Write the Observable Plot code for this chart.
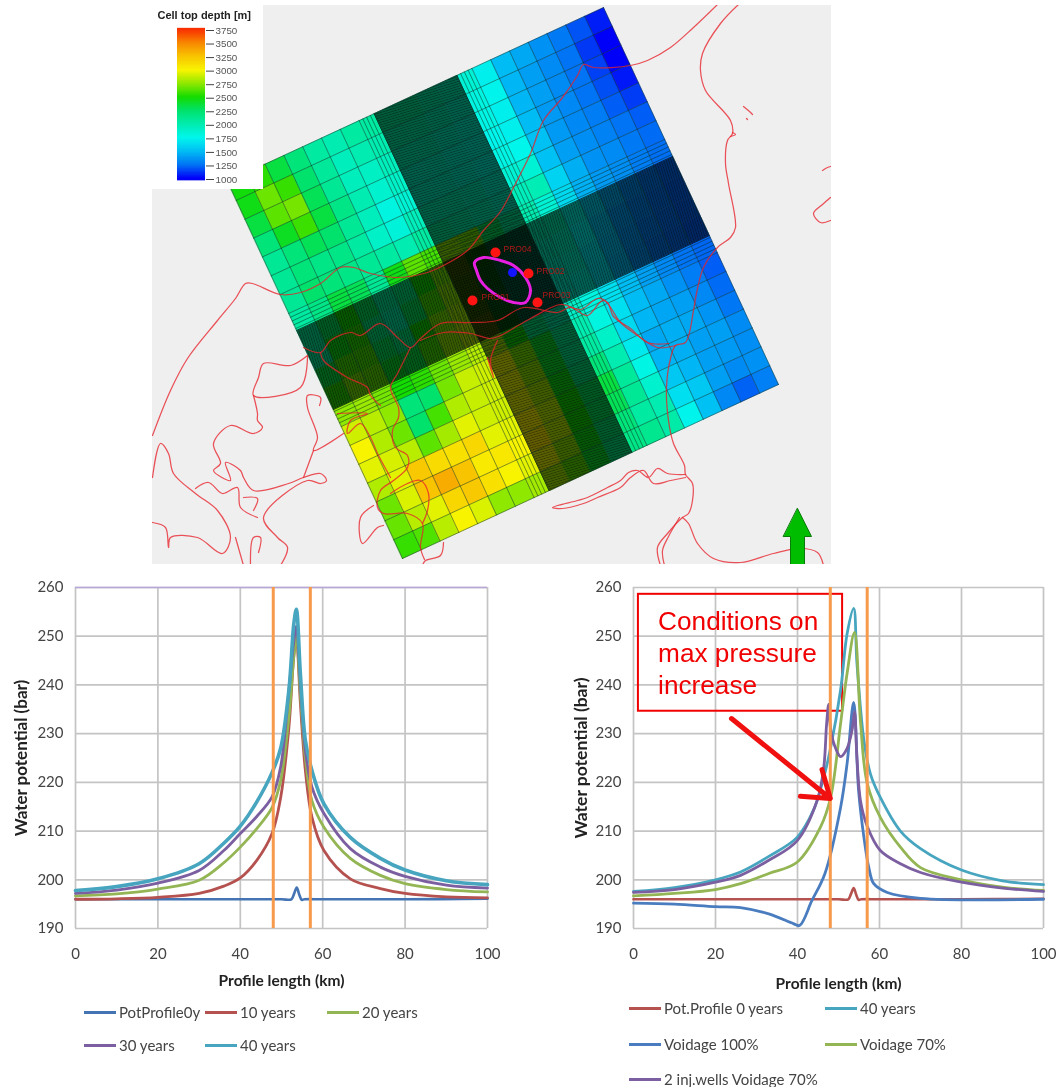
<!DOCTYPE html>
<html>
<head>
<meta charset="utf-8">
<script src="https://cdn.jsdelivr.net/npm/d3@7"></script>
<script src="https://cdn.jsdelivr.net/npm/@observablehq/plot@0.6"></script>
<style>
html,body{margin:0;padding:0;background:#fff;}
#page{position:relative;width:1064px;height:1087px;overflow:hidden;}
#page>div{position:absolute;}
#page svg{display:block;filter:blur(.45px);}
.lg{position:absolute;font:15px Lato,sans-serif;color:#444;white-space:nowrap;line-height:18px;filter:blur(.35px);}
.lg i{position:absolute;display:block;height:3px;width:32px;}
</style>
</head>
<body>
<div id="page"></div>
<script>
// ---------- Depth colour map ----------
const depthStops = [1000,1250,1500,1750,2000,2250,2500,2750,3000,3250,3500,3750];
const depthColors = ["#0000f8","#0074f4","#00bcf4","#00f6ec","#00ecb0","#00e26c","#14dc00","#8ee800","#f8f400","#f8c400","#f88800","#f83000"];
const depthTicks = [1000,1250,1500,1750,2000,2250,2500,2750,3000,3250,3500,3750];

// ---------- Model grid (km along the two grid axes) ----------
const uBlocks = [0,5,10,15,20,25,30,35,39,44.5,50,55.5,61,65,70,75,80,85,90,95,100];
const vBlocks = [0,5,10,15,20,25,30,35,39.5,44.5,50,55,60.5,65,70,75,80,85,90,95,100];
const gridLinesAt = [0,5,10,15,20,25,30,35,36,37,38,39,61,62,63,64,65,70,75,80,85,90,95,100];
const gridOrigin = [227,181], gridU = [3.76,-1.74], gridV = [1.75,3.77];

const depthRow00 = [2480,2550,2350,2200,2050,2000,2050,2050,2100,2100,2050,2000,1850,1720,1500,1430,1350,1270,1180,1060];
const depthRow05 = [2450,2680,2570,2250,2080,1950,2000,2000,2050,2050,2000,1950,1800,1740,1480,1400,1330,1250,1120,1000];
const depthRow10 = [2350,2650,2700,2300,2100,1950,1920,1950,2000,2000,1950,1900,1780,1720,1480,1400,1330,1250,1140,1000];
const depthRow15 = [2200,2420,2580,2350,2150,2000,1880,1900,1950,1950,1900,1880,1750,1720,1500,1380,1320,1250,1170,1050];
const depthRow20 = [2100,2200,2300,2250,2100,1950,1800,1850,1950,1950,1900,1860,1780,1760,1520,1380,1320,1280,1200,1130];
const depthRow25 = [2100,2200,2150,2150,2050,1900,1830,1950,2000,2000,1980,1900,1850,1850,1520,1400,1340,1300,1250,1200];
const depthRow30 = [2100,2250,2200,2150,2100,2050,2000,2050,2100,2050,2000,1950,1950,1980,1600,1450,1350,1330,1270,1230];
const depthRow35 = [2050,2150,2350,2300,2100,2450,2650,2600,2750,2700,2300,2100,2000,1850,1620,1460,1380,1340,1280,1240];
const depthRow39 = [2100,2300,2500,2300,2100,2200,2500,2700,2750,2500,2200,2100,2000,2000,1800,1600,1450,1350,1280,1230];
const depthRow44 = [2100,2450,2550,2200,2050,2300,2600,2750,2700,2400,2100,2000,1950,1950,1750,1550,1400,1320,1260,1220];
const depthRow50 = [2350,2600,2600,2300,2200,2500,2700,2800,2700,2350,2050,1950,1900,1900,1700,1520,1380,1300,1250,1220];
const depthRow55 = [2550,2700,2650,2400,2350,2600,2750,2850,2800,2400,2100,1950,1880,1850,1680,1500,1360,1280,1240,1210];
const depthRow60 = [2750,2780,2700,2500,2550,2680,2780,2850,2800,2500,2200,2050,1900,1800,1650,1500,1400,1320,1250,1220];
const depthRow65 = [2900,2850,2750,2200,2250,2700,2880,2900,2950,2700,2400,2150,2000,1800,1650,1500,1430,1350,1280,1200];
const depthRow70 = [3000,2830,2680,2250,2600,2830,2880,2900,2950,2750,2400,2150,2050,1900,1620,1480,1420,1400,1320,1230];
const depthRow75 = [2950,2920,2850,2650,2800,2950,2900,2900,2950,2800,2450,2200,2200,2000,1700,1430,1450,1430,1360,1260];
const depthRow80 = [2830,2950,3230,3130,3100,3150,2950,2950,3000,2850,2500,2300,2350,2080,1780,1470,1450,1400,1400,1330];
const depthRow85 = [2680,2930,3250,3350,3250,3050,3060,3000,3050,2850,2500,2300,2300,2100,1880,1550,1480,1400,1380,1340];
const depthRow90 = [2670,2850,2950,3150,3230,3100,3000,2950,2950,2750,2450,2250,2200,2050,2000,1650,1550,1400,1330,1350];
const depthRow95 = [2570,2620,2850,3000,2930,2750,2750,2800,2800,2650,2400,2200,2150,2120,2030,1740,1520,1320,1210,1290];
const depthRows = [depthRow00,depthRow05,depthRow10,depthRow15,depthRow20,depthRow25,depthRow30,depthRow35,depthRow39,depthRow44,depthRow50,depthRow55,depthRow60,depthRow65,depthRow70,depthRow75,depthRow80,depthRow85,depthRow90,depthRow95];

// ---------- Coastlines and map features (map coordinates) ----------
const coastNorth = [[717,4],[693,27],[670,47],[647,60],[630,65],[593,67],[583,64],[577,75],[562,97],[543,120],[530,153],[513,187],[500,211],[483,230],[467,250],[443,265],[427,272],[397,277],[370,273],[353,267],[340,267],[320,283],[300,292],[280,294],[252,283],[245,283],[235,298],[217,320],[187,358],[170,390],[152,435]];
const coastEast = [[738,4],[720,23],[702,53],[700,70],[705,90],[730,120],[732,133],[727,140],[725,163],[728,183],[735,227],[730,237],[717,247],[703,267],[695,298],[693,310],[685,342],[675,345],[670,358],[666,387],[668,420],[673,443],[684,465],[685,474],[692,483],[692,500],[688,513],[682,517],[667,533],[657,547],[660,565]];
const coastDenmarkSouth = [[679,517],[668,536],[662,550],[664,565]];
const coastGermany = [[682,517],[688,523],[697,543],[713,558],[740,562],[773,553],[800,548],[817,552],[823,565]];
const coastInlet = [[685,474],[667,473],[657,468],[648,477],[637,470],[628,472],[620,480],[607,487],[587,497],[577,500],[552,507],[562,508],[583,503],[597,497],[620,487],[630,477],[643,470],[653,483],[670,480],[685,477]];
const coastChannel = [[303,347],[320,352],[330,340],[350,332],[360,335],[380,323],[397,337],[410,347],[420,338],[440,323],[470,322],[497,320],[523,307],[557,312],[570,307],[587,315],[603,300],[620,322],[637,335],[657,347],[675,345]];
const coastChannel2 = [[420,340],[443,332],[470,333],[490,338],[500,335],[530,318],[560,304],[580,309],[597,298],[607,302],[613,316],[630,328],[647,342],[668,343]];
const coastFjordA = [[320,352],[323,360],[347,377],[367,387],[370,395],[380,405]];
const coastFjordB = [[410,347],[397,373],[390,387],[398,407],[398,417],[392,430],[395,447],[407,455],[407,467],[393,480],[380,490],[377,507],[383,513],[407,513],[422,523],[420,547],[424,559]];
const coastFjordLoop = [[390,493],[407,483],[420,480],[428,493],[427,510],[422,523]];
const coastBay = [[337,413],[367,413],[350,420],[347,433],[360,423],[370,437],[377,453],[390,477]];
const coastStream = [[487,357],[493,377],[490,360],[497,340]];
const coastWest1 = [[307,355],[290,365],[263,363],[258,377],[253,395],[300,387],[307,355]];
const coastWest2 = [[253,395],[257,413],[257,420],[262,427],[253,433],[230,425],[213,443],[220,463],[213,470],[230,480],[225,462],[240,470],[243,477],[253,490],[288,483],[303,477],[320,473],[326,480],[320,483],[307,480],[263,517],[277,537],[287,547],[280,565]];
const coastWest3 = [[343,433],[313,450],[317,437],[307,407],[307,395],[320,397],[319,405]];
const coastWest4 = [[313,450],[303,477]];
const coastWest5 = [[152,477],[160,443],[168,453],[173,473],[195,493],[217,510],[230,537],[222,553],[197,537],[170,537],[168,547],[165,527],[152,522]];
const coastWest6 = [[195,488],[208,482],[222,493],[237,487],[240,507],[257,517]];
const coastWest7 = [[243,497],[257,498],[253,510]];
const coastWest8 = [[235,537],[243,565]];
const coastWest9 = [[250,565],[253,537],[260,537],[258,552]];
const coastSouth1 = [[373,505],[360,517],[362,543],[377,527],[383,525]];
const coastSouth2 = [[443,542],[440,555],[425,560],[422,565]];
const coastIslands = [[[743,106],[749,111],[752,114]],[[732,132],[735,134],[730,136]],[[822,170],[827,167],[830,166]],[[830,197],[822,204],[813,213],[820,222],[830,220]],[[746,118],[747,119]]];
const coasts = [coastNorth,coastEast,coastDenmarkSouth,coastGermany,coastInlet,coastChannel,coastChannel2,coastFjordA,coastFjordB,coastFjordLoop,coastBay,coastStream,coastWest1,coastWest2,coastWest3,coastWest4,coastWest5,coastWest6,coastWest7,coastWest8,coastWest9,coastSouth1,coastSouth2,...coastIslands];

const plumeOutline = [[474,262],[483,257],[500,260],[513,265],[525,277],[530,290],[525,302],[513,302],[500,297],[487,288],[480,280],[476,270]];
const wellNames = ["PRO04","PRO02","PRO01","PRO03"];
const wellX = [495,528,472,537];
const wellY = [252,273,300,302];
const wellLabelX = [503,536,481,542];
const wellLabelY = [249,271,297,295];
const injectorX = [512], injectorY = [272];
const northArrow = [[797,508],[811,536],[804,536],[804,566],[790,566],[790,536],[783,536],[797,508]];

// ---------- Water potential curves, left chart ----------
const pot0y = [[0,196],[20,196],[40,196],[50,196],[52.4,196],[53,197],[53.7,198.4],[54.3,197],[54.9,195.9],[55.6,196],[60,196],[80,196],[100,196.1]];
const y10 = [[0,196],[10,196.1],[20,196.4],[30,197.2],[36,198.7],[40,200.4],[44,204],[47.7,209.5],[49.8,216.9],[51.8,231.3],[53,246],[53.6,249.5],[54.6,236],[55.8,222.4],[57.4,212.8],[60.3,206],[66.7,200.2],[74,198.2],[80,197.2],[90,196.5],[100,196.3]];
const y20 = [[0,196.7],[10,197.1],[20,198.1],[30,199.9],[36,203.5],[40,206.7],[44,210.5],[47.7,214.8],[49.8,220.4],[51.8,233.4],[53,246],[53.6,250],[54.6,238],[55.8,225],[57.4,216.2],[60.3,210.8],[66.7,204.4],[74,200.9],[80,199.2],[90,198],[100,197.5]];
const y30 = [[0,197.2],[10,197.9],[20,199.3],[30,201.9],[36,206],[40,209.5],[44,213],[47.7,217],[49.8,223.2],[51.8,238.9],[53,249],[53.6,252],[54.6,240],[55.8,226.5],[57.4,219],[60.3,213.6],[66.7,206.4],[74,202.6],[80,200.7],[90,198.9],[100,198.3]];
const y40 = [[0,197.8],[10,198.6],[20,200.2],[30,203.3],[36,207.5],[40,211],[44,216],[47.7,222],[49.8,227],[51.8,239],[53,252.6],[53.6,255.5],[54.6,242],[55.8,228.6],[57.4,222.4],[60.3,215.6],[66.7,208.7],[74,204.4],[80,202],[90,199.8],[100,199]];

// ---------- Water potential curves, right chart ----------
const potProfile0 = [[0,196],[20,196],[40,196],[50,196],[52.4,196],[53,197],[53.7,198.3],[54.3,197],[54.9,195.9],[55.6,196],[60,196],[80,196],[100,196.1]];
const scen40 = [[0,197.6],[10,198.4],[20,200],[26.1,201.6],[33,204.8],[39.9,208.7],[44,214.5],[46.4,221],[48.1,227.2],[50.5,238.9],[52.1,250.5],[53.7,255.7],[54.5,244.4],[56.2,228.6],[57.8,221.7],[60.2,216.9],[65.1,210],[70,206.4],[80,202],[90,199.8],[100,199]];
const voidage100 = [[0,195.2],[10,195],[20,194.5],[26.1,194.3],[33,193],[39,191],[40.5,190.6],[43.5,195.7],[46.7,201.3],[50.5,214.8],[52.1,223.9],[53.7,236.4],[54.9,218.3],[56.2,208.7],[57.4,202.5],[58.6,199.2],[61.9,197.4],[70,196.2],[100,196]];
const voidage70 = [[0,196.7],[10,197.2],[20,198],[26.1,199.2],[33,201.3],[39.9,203.6],[45.6,210.8],[48.1,217],[50.5,232],[52.1,242.4],[53.9,250.8],[55.4,232],[57,219.8],[60.2,212.8],[65.1,206.7],[70,202.5],[80,200],[90,198.5],[100,197.8]];
const wells2 = [[0,197.4],[10,198],[20,199.5],[26.1,200.9],[33,204],[39.9,208],[44.8,216.3],[46.4,223],[47.1,232],[47.6,236],[48.1,230.7],[49.3,227],[50.5,225.3],[52.1,227],[53.3,230.7],[53.9,234.5],[54.5,225],[55.4,216],[57,211],[60.2,206],[65.1,203.3],[70,201.5],[80,199.5],[90,198.3],[100,197.6]];

const xTicks = [0,20,40,60,80,100];
const yTicks = [190,200,210,220,230,240,250,260];
const limits = [48,57];
const noteLines = ["Conditions on","max pressure","increase"];

const cBlue="#4474b4", cRed="#b5524f", cGreen="#93b553", cPurple="#7b5fa0", cTeal="#47a5bf", cOrange="#f79a4c", cGrid="#c4c4c4";
const leftSeries = [
  {name:"PotProfile0y",data:pot0y,color:cBlue,w:2.6},
  {name:"10 years",data:y10,color:cRed,w:2.8},
  {name:"20 years",data:y20,color:cGreen,w:2.8},
  {name:"30 years",data:y30,color:cPurple,w:2.8},
  {name:"40 years",data:y40,color:cTeal,w:3.6}
];
const rightSeries = [
  {name:"Pot.Profile 0 years",data:potProfile0,color:"#b5524f",w:2.6},
  {name:"40 years",data:scen40,color:cTeal,w:2.8},
  {name:"Voidage 100%",data:voidage100,color:"#4a7dbf",w:2.8},
  {name:"Voidage 70%",data:voidage70,color:cGreen,w:2.8},
  {name:"2 inj.wells Voidage 70%",data:wells2,color:cPurple,w:2.8}
];

// ---------- helpers ----------
const page = document.getElementById("page");
function place(node,left,top){const d=document.createElement("div");d.style.left=left+"px";d.style.top=top+"px";d.appendChild(node);page.appendChild(d);}
const at=(u,v)=>[gridOrigin[0]+gridU[0]*u+gridV[0]*v, gridOrigin[1]+gridU[1]*u+gridV[1]*v];
const colorScale={type:"linear",domain:depthStops,range:depthColors,clamp:true};

// ---------- map ----------
const cells=[];
depthRows.forEach((row,j)=>row.forEach((depth,i)=>{
  const u0=uBlocks[i],u1=uBlocks[i+1],v0=vBlocks[j],v1=vBlocks[j+1];
  cells.push({type:"Feature",properties:{depth},geometry:{type:"Polygon",coordinates:[[at(u0,v0),at(u1,v0),at(u1,v1),at(u0,v1),at(u0,v0)]]}});
}));
const coarse=[];
gridLinesAt.forEach(t=>{coarse.push([at(t,0),at(t,100)]);coarse.push([at(0,t),at(100,t)]);});
const fine=[];
d3.range(39,61.01,0.25).forEach(t=>{fine.push([at(t,0),at(t,100)]);});
d3.range(39.5,60.51,0.25).forEach(t=>{fine.push([at(0,t),at(100,t)]);});
const bands=[
  {type:"Polygon",coordinates:[[at(39,0),at(61,0),at(61,100),at(39,100),at(39,0)]]},
  {type:"Polygon",coordinates:[[at(0,39.5),at(100,39.5),at(100,60.5),at(0,60.5),at(0,39.5)]]}
];
const coastPts=coasts.flatMap((c,k)=>c.map(p=>({x:p[0],y:p[1],z:k})));
const plumePts=plumeOutline.map(p=>({x:p[0],y:p[1]}));
const wells=wellNames.map((name,i)=>({name,x:wellX[i],y:wellY[i],lx:wellLabelX[i],ly:wellLabelY[i]}));

const mapPlot=Plot.plot({
  width:679,height:559,margin:0,
  projection:d3.geoIdentity().translate([-152,-5]),
  color:colorScale,
  style:{background:"#efefef",fontFamily:"Liberation Sans"},
  marks:[
    Plot.geo(cells,{fill:d=>d.properties.depth,stroke:d=>d.properties.depth,strokeWidth:.4}),
    Plot.geo(bands,{fill:"#000",fillOpacity:.16}),
    Plot.geo({type:"MultiLineString",coordinates:fine},{fill:"none",stroke:"#000",strokeWidth:.72}),
    Plot.geo({type:"MultiLineString",coordinates:coarse},{fill:"none",stroke:"#06281f",strokeOpacity:.52,strokeWidth:.95}),
    Plot.line(coastPts,{x:"x",y:"y",z:"z",curve:"catmull-rom",stroke:"#e8222c",strokeOpacity:.78,strokeWidth:1.25}),
    Plot.line(plumePts,{x:"x",y:"y",curve:"catmull-rom-closed",stroke:"#e81fe0",strokeWidth:3}),
    Plot.dot(wells,{x:"x",y:"y",r:5,fill:"#ff1414"}),
    Plot.dot(injectorX.map((x,i)=>({x,y:injectorY[i]})),{x:"x",y:"y",r:4.5,fill:"#1414ff"}),
    Plot.text(wells,{x:"lx",y:"ly",text:"name",textAnchor:"start",fontSize:8.5,fill:"#b01818"}),
    Plot.geo({type:"Polygon",coordinates:[northArrow]},{fill:"#00bd00",stroke:"#0a7a0a",strokeWidth:1})
  ]
});
place(mapPlot,152,5);

// ---------- depth legend ----------
const legendSteps=d3.range(975,3775,25);
const legendPlot=Plot.plot({
  width:111,height:184,marginTop:25,marginBottom:10,marginLeft:25,marginRight:58,
  x:{domain:[0,1],axis:null},
  y:{domain:[1000,3750],range:[174,25],axis:null},
  color:colorScale,
  style:{background:"#fff",fontFamily:"Liberation Sans"},
  marks:[
    Plot.rect(legendSteps,{x1:0,x2:1,y1:d=>d,y2:d=>d+40,fill:d=>d}),
    Plot.axisY(depthTicks,{anchor:"right",tickSize:8,tickPadding:2,tickFormat:d=>String(d),fontSize:9.8,label:null,color:"#555",stroke:"#444"}),
    Plot.text(["Cell top depth [m]"],{frameAnchor:"top-left",dx:-20,dy:-19,fontSize:11,fontWeight:"bold",fill:"#222",textAnchor:"start"})
  ]
});
place(legendPlot,152,5);

// ---------- line charts ----------
function chart(series,opts){
  const marks=[
    Plot.gridX(xTicks,{stroke:cGrid,strokeOpacity:1,strokeWidth:1.7}),
    Plot.gridY(yTicks,{stroke:cGrid,strokeOpacity:1,strokeWidth:1.7})
  ];
  if(opts.topRule) marks.push(Plot.ruleY([260],{stroke:opts.topRule,strokeWidth:1.3}));
  if(opts.note) marks.push(Plot.rect([0],{x1:1.2,x2:51,y1:234.6,y2:258.6,fill:"none",stroke:"#f00000",strokeWidth:2}));
  series.forEach(s=>marks.push(Plot.line(s.data,{x:d=>d[0],y:d=>d[1],stroke:s.color,strokeWidth:s.w,curve:"catmull-rom"})));
  marks.push(Plot.ruleX(limits,{stroke:cOrange,strokeWidth:3}));
  marks.push(Plot.axisX(xTicks,{tickSize:0,tickPadding:20,fontSize:15,label:null,color:"#444",tickFormat:d=>String(d)}));
  marks.push(Plot.axisY(yTicks,{tickSize:0,tickPadding:12,fontSize:15,label:null,color:"#444",tickFormat:d=>String(d)}));
  marks.push(Plot.text(["Profile length (km)"],{frameAnchor:"bottom",dy:opts.xLabelDy,fontSize:15.5,fontWeight:"bold",fill:"#222"}));
  marks.push(Plot.text(["Water potential (bar)"],{frameAnchor:"left",textAnchor:"middle",rotate:-90,dx:opts.yLabelDx,dy:0,fontSize:opts.yLabelSize,fontWeight:"bold",fill:"#222"}));
  if(opts.note){
    noteLines.forEach((t,i)=>marks.push(Plot.text([t],{x:()=>6,y:()=>opts.noteY[i],textAnchor:"start",fontSize:26.2,fill:"#f00000",fontFamily:"Liberation Sans"})));
    marks.push(Plot.arrow([0],{x1:()=>23.9,y1:()=>233.1,x2:()=>48,y2:()=>216.7,stroke:"#f01010",strokeWidth:5,headLength:9,headAngle:70}));
  }
  return Plot.plot({
    width:opts.width,height:430,marginTop:17,marginBottom:72,marginLeft:opts.ml,marginRight:opts.mr,
    x:{domain:[0,100],axis:null},
    y:{domain:[190,260],axis:null},
    style:{background:"transparent",fontFamily:"Lato"},
    marks
  });
}
place(chart(leftSeries,{width:530,ml:75,mr:43,topRule:"#b8a6d8",xLabelDy:57,yLabelDx:-54,yLabelSize:17}),0,570);
place(chart(rightSeries,{width:504,ml:73,mr:21,note:true,noteY:[253.1,246.4,239.8],xLabelDy:60,yLabelDx:-52,yLabelSize:17.5}),560,570);

// ---------- chart legends ----------
function legendEntry(s,lineX,y){
  const e=document.createElement("div");e.className="lg";
  e.style.left=(lineX+35)+"px";e.style.top=(y-9)+"px";e.textContent=s.name;
  const k=document.createElement("i");k.style.background=s.color;k.style.left="-35px";k.style.top="7.5px";e.appendChild(k);
  page.appendChild(e);
}
const leftRows=[[84,1012],[205,1012],[327,1012],[84,1045],[205,1045]];
leftSeries.forEach((s,i)=>legendEntry(s,leftRows[i][0],leftRows[i][1]));
const rightRows=[[629,1008],[825,1008],[629,1044],[825,1044],[629,1079]];
rightSeries.forEach((s,i)=>legendEntry(s,rightRows[i][0],rightRows[i][1]));
</script>
</body>
</html>
